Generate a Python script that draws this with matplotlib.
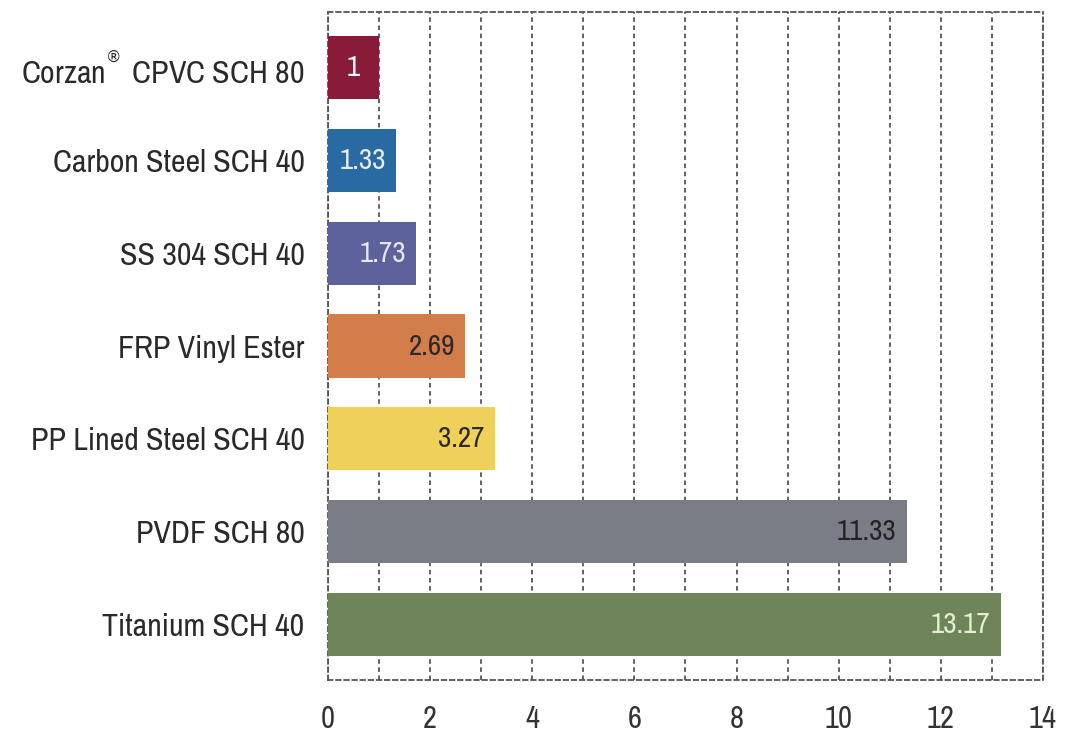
import matplotlib
matplotlib.use("Agg")
import matplotlib.pyplot as plt
from matplotlib import font_manager

# narrow font if one is around, else Roboto
names = sorted(set(f.name for f in font_manager.fontManager.ttflist))
narrow = [n for n in names if "Narrow" in n or "Condensed" in n]
if narrow:
    fam, lab_size, num_size, tick_size = narrow[0], 23, 21, 22
else:
    fam, lab_size, num_size, tick_size = "Roboto", 18.5, 18, 18.5
plt.rcParams['font.family'] = [fam, 'DejaVu Sans']

materials = [r"Corzan$^{{}^{\circledR}}\;$CPVC SCH 80", "Carbon Steel SCH 40", "SS 304 SCH 40",
             "FRP Vinyl Ester", "PP Lined Steel SCH 40", "PVDF SCH 80", "Titanium SCH 40"]
values = [1, 1.33, 1.73, 2.69, 3.27, 11.33, 13.17]
value_text = ["1", "1.33", "1.73", "2.69", "3.27", "11.33", "13.17"]
colors = ["#8a1b38", "#2a6aa3", "#5d629d", "#d37d4a", "#efd05a", "#7a7d86", "#6e8559"]
text_colors = ["white", "#e6eefa", "#e6e8f5", "#2a2a2a", "#2a2a2a", "#222222", "#e4eed2"]
xticks = [0, 2, 4, 6, 8, 10, 12, 14]

fig = plt.figure(figsize=(10.67, 7.38), dpi=100)
ax = fig.add_axes([0.3074, 0.0786, 0.6701, 0.9051])

ypos = list(range(len(materials)))
ax.barh(ypos, values, height=0.68, color=colors, zorder=3)

for y, v, t, c in zip(ypos, values, value_text, text_colors):
    if v < 1.1:
        ax.text(v / 2, y, t, ha="center", va="center", color=c, fontsize=num_size, zorder=4)
    else:
        ax.text(v - 0.2, y, t, ha="right", va="center", color=c, fontsize=num_size, zorder=4)

ax.set_xlim(0, 14)
ax.set_ylim(len(materials) - 0.4, -0.6)
ax.set_yticks(ypos)
ax.set_yticklabels(materials, fontsize=lab_size, color="#2a2a2a")
ax.set_xticks(xticks)
ax.set_xticklabels([str(x) for x in xticks], fontsize=tick_size, color="#333333")
ax.set_xticks(range(15), minor=True)
ax.tick_params(axis="both", length=0, which="both")
ax.tick_params(axis="y", pad=17)
ax.tick_params(axis="x", pad=18)

ax.grid(axis="x", which="both", linestyle=(0, (2.5, 2)), color="#555555", linewidth=1.3, zorder=1)
for s in ax.spines.values():
    s.set_linestyle((0, (2.5, 2)))
    s.set_color("#555555")
    s.set_linewidth(1.3)

fig.savefig("out.png", dpi=100)
